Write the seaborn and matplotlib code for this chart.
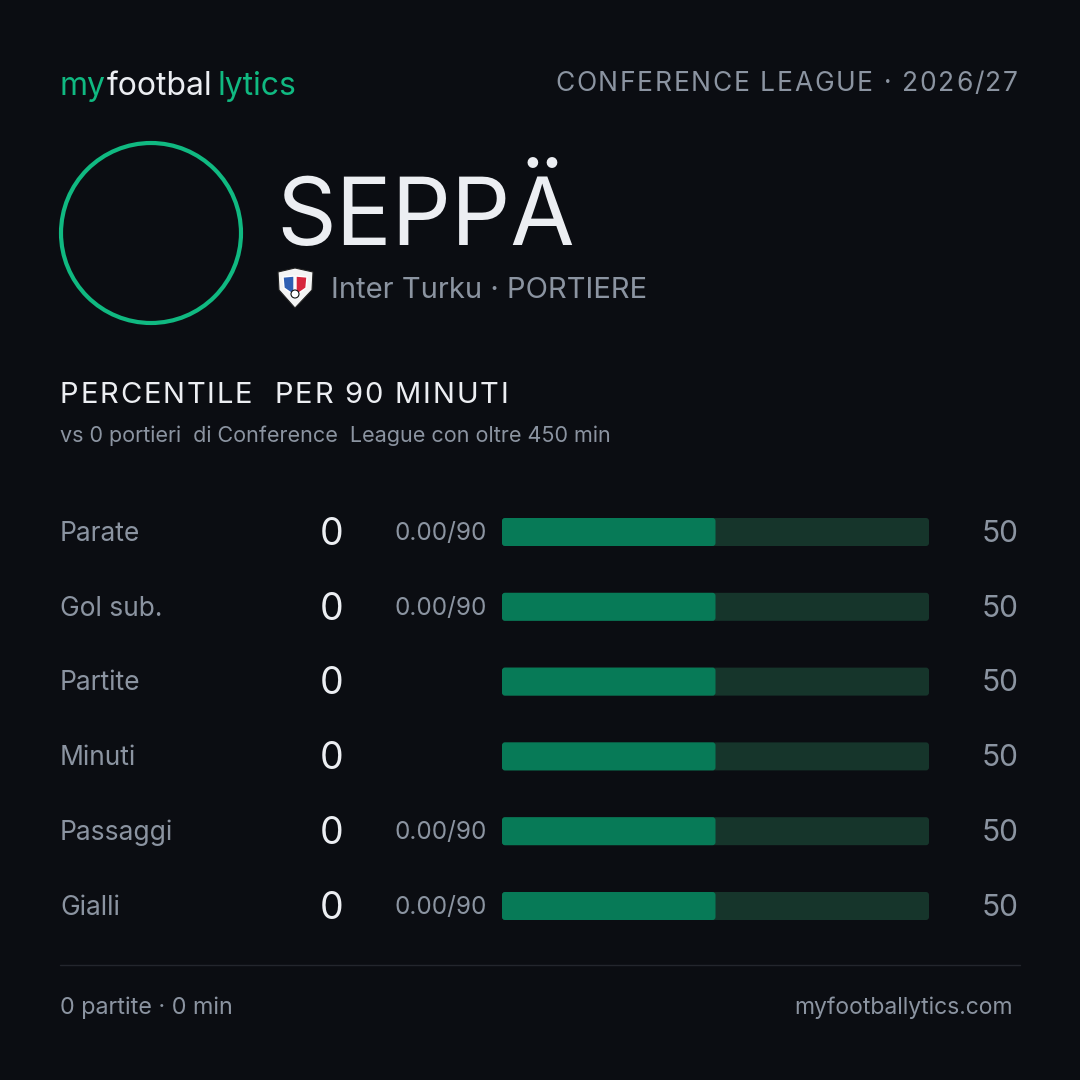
import numpy as np
import pandas as pd
import seaborn as sns
import matplotlib.pyplot as plt
from matplotlib.patches import Circle, Polygon, FancyBboxPatch

# data
metrics = ['Parate', 'Gol sub.', 'Partite', 'Minuti', 'Passaggi', 'Gialli']
values = ['0', '0', '0', '0', '0', '0']
per90 = ['0.00/90', '0.00/90', '', '', '0.00/90', '0.00/90']
percentiles = [50, 50, 50, 50, 50, 50]

player = 'SEPPÄ'
club_line = 'Inter Turku · PORTIERE'
competition = 'CONFERENCE LEAGUE · 2026/27'
section_title = 'PERCENTILE  PER 90 MINUTI'
section_sub = 'vs 0 portieri  di Conference  League con oltre 450 min'
footer_left = '0 partite · 0 min'
footer_right = 'myfootballytics.com'

BG = '#0b0d12'
GREEN = '#10b981'
BAR = '#077a57'
TRACK = '#16352b'
WHITE = '#eceef2'
GREY = '#8b94a1'

sns.set_theme(style='white')
plt.rcParams['font.family'] = ['Inter', 'DejaVu Sans']

fig = plt.figure(figsize=(10.8, 10.8), dpi=100, facecolor=BG)
ax = fig.add_axes([0, 0, 1, 1])
ax.set_xlim(0, 1080)
ax.set_ylim(1080, 0)
ax.axis('off')
ax.set_facecolor(BG)
renderer = fig.canvas.get_renderer()


def spaced(x, y, s, track, ha='left', **kw):
    # text with extra letter spacing (pixels), drawn char by char
    widths = []
    for ch in s:
        t = ax.text(0, 0, ch, **kw)
        widths.append(t.get_window_extent(renderer).width)
        t.remove()
    total = sum(widths) + track * (len(s) - 1)
    cx = x - total if ha == 'right' else x
    for ch, w in zip(s, widths):
        ax.text(cx, y, ch, va='baseline', **kw)
        cx += w + track


# header logo
t1 = ax.text(60, 95, 'my', color=GREEN, fontsize=23, va='baseline')
t2 = ax.annotate('footbal', xy=(1, 0), xycoords=t1, xytext=(0.5, 0),
                 textcoords='offset points', color=WHITE, fontsize=23, va='bottom')
ax.annotate('lytics', xy=(1, 0), xycoords=t2, xytext=(3.5, 0),
            textcoords='offset points', color=GREEN, fontsize=23, va='bottom')
spaced(1018, 91, competition, 1.7, ha='right', color=GREY, fontsize=19)

# avatar ring
ax.add_patch(Circle((151, 233), 90, fill=False, ec=GREEN, lw=3))

ax.text(276, 245, player, color=WHITE, fontsize=67, va='baseline')

# crest
crest = np.array([[278, 272], [295, 268], [313, 272], [312, 290], [295, 308], [279, 290]])
ax.add_patch(Polygon(crest, closed=True, fc='#f4f4f4', ec='#222', lw=0.8))
ax.add_patch(Polygon([[283, 277], [294, 276], [294, 295], [284, 288]], fc='#2f5fb3'))
ax.add_patch(Polygon([[296, 276], [307, 277], [306, 288], [296, 295]], fc='#d7263d'))
ax.add_patch(Circle((295, 294), 4, fc='white', ec='#111', lw=0.8))
ax.text(331, 298, club_line, color=GREY, fontsize=21, va='baseline')

spaced(60, 403, section_title, 1.8, color=WHITE, fontsize=21)
ax.text(60, 442, section_sub, color=GREY, fontsize=15.5, va='baseline')

# rows
row_y = [532, 607, 681, 756, 831, 906]
for y, m, v, p, pc in zip(row_y, metrics, values, per90, percentiles):
    ax.text(60, y + 9, m, color=GREY, fontsize=19, va='baseline')
    ax.text(343, y + 13, v, color=WHITE, fontsize=27, va='baseline', ha='right')
    ax.text(487, y + 8, p, color=GREY, fontsize=17.5, va='baseline', ha='right')
    ax.text(1018, y + 10, str(pc), color=GREY, fontsize=21.5, va='baseline', ha='right')

# bars
df = pd.DataFrame({'metric': metrics, 'pct': percentiles})
bx0, bx1 = 502, 929
spacing = 74.8
top = row_y[0] - spacing / 2
bottom = row_y[-1] + spacing / 2
bax = fig.add_axes([bx0 / 1080, 1 - bottom / 1080, (bx1 - bx0) / 1080, (bottom - top) / 1080])
bar_w = 28 / spacing
sns.barplot(data=df.assign(full=100), x='full', y='metric', color=TRACK, width=bar_w,
            saturation=1, ax=bax, orient='h')
sns.barplot(data=df, x='pct', y='metric', color=BAR, width=bar_w,
            saturation=1, ax=bax, orient='h')
bax.set_xlim(0, 100)
bax.axis('off')
bax.patch.set_alpha(0)

# round the bar corners
for rect in list(bax.patches):
    x, y = rect.get_x(), rect.get_y()
    w, h = rect.get_width(), rect.get_height()
    fc = rect.get_facecolor()
    rect.remove()
    bax.add_patch(FancyBboxPatch((x, y), w, h, boxstyle='round,pad=0,rounding_size=0.7',
                                 mutation_aspect=(bar_w / 28) / (100 / 427),
                                 fc=fc, ec='none'))

ax.plot([60, 1020], [965, 965], color='#23262d', lw=1)
ax.text(60, 1014, footer_left, color=GREY, fontsize=16.8, va='baseline')
ax.text(1013, 1014, footer_right, color=GREY, fontsize=16.5, va='baseline', ha='right')

fig.savefig('out.png', dpi=100, facecolor=BG)
